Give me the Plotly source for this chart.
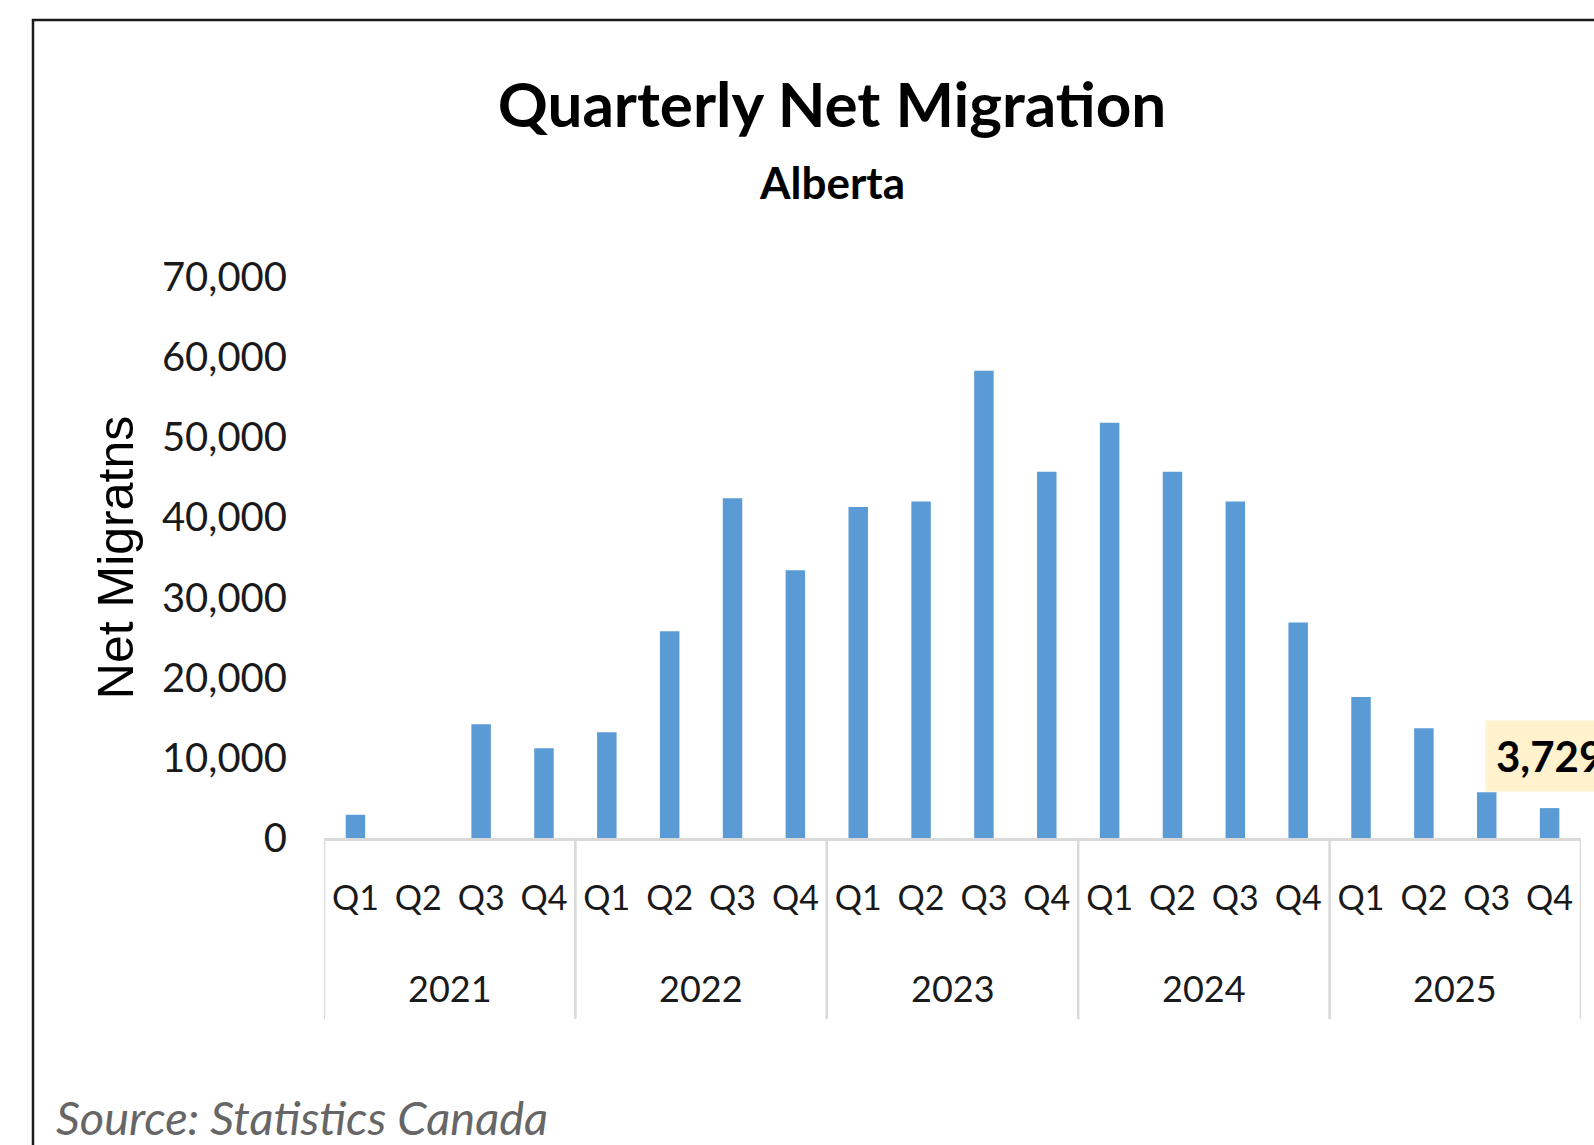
import plotly.graph_objects as go

# quarterly net migration, Alberta (Statistics Canada)
years = ["2021", "2022", "2023", "2024", "2025"]
quarters = ["Q1", "Q2", "Q3", "Q4"]
net_migrants = [2900, 0, 14200, 11200,
                13200, 25800, 42400, 33400,
                41300, 42000, 58300, 45700,
                51800, 45700, 42000, 26900,
                17600, 13700, 5700, 3729]

categories = [f"{y} {q}" for y in years for q in quarters]
quarter_labels = [q for y in years for q in quarters]

W, H = 1594, 1145
L, R, T, B = 324, 13, 277, 307
plot_w = W - L - R
plot_h = H - T - B


def px_x(p):
    return (p - L) / plot_w


def px_y(p):
    return (H - B - p) / plot_h


fig = go.Figure()
fig.add_trace(go.Bar(
    x=categories,
    y=net_migrants,
    marker=dict(color="#5B9BD5", line=dict(width=0)),
    hoverinfo="x+y",
))

n_q = len(quarters)
shapes = []
# category dividers below the axis
for i in range(len(years) + 1):
    xv = i * n_q - 0.5
    shapes.append(dict(type="line", xref="x", yref="paper",
                       x0=xv, x1=xv, y0=0, y1=px_y(1019),
                       line=dict(color="#d9d9d9", width=2.5)))
# outer chart frame
shapes.append(dict(type="rect", xref="paper", yref="paper",
                   x0=px_x(33), x1=px_x(1700), y0=px_y(1300), y1=px_y(20),
                   line=dict(color="#1a1a1a", width=2.5)))

annotations = []
for i, y in enumerate(years):
    annotations.append(dict(
        x=i * n_q + (n_q - 1) / 2, y=0, xref="x", yref="paper",
        yshift=-150, yanchor="middle", showarrow=False, text=y,
        font=dict(family="Lato", size=36, color="#1a1a1a")))

annotations.append(dict(
    x=px_x(832), y=px_y(182), xref="paper", yref="paper",
    text="<b>Alberta</b>", showarrow=False, yanchor="middle",
    font=dict(family="Lato", size=44, color="#000000")))

annotations.append(dict(
    x=px_x(54), y=px_y(1117), xref="paper", yref="paper",
    text="<i>Source: Statistics Canada</i>", showarrow=False,
    xanchor="left", yanchor="middle",
    font=dict(family="Lato", size=47, color="#666666")))

# data label on the latest quarter
annotations.append(dict(
    x=categories[-1], y=net_migrants[-1], xref="x", yref="y",
    text=f"<b>{net_migrants[-1]:,}</b>", showarrow=False,
    xanchor="left", yanchor="middle", xshift=-65, yshift=52,
    bgcolor="#FFF2CC", borderpad=10,
    font=dict(family="Lato", size=42, color="#000000")))

fig.update_layout(
    width=W, height=H,
    margin=dict(l=L, r=R, t=T, b=B),
    plot_bgcolor="white", paper_bgcolor="white",
    showlegend=False,
    bargap=0.69,
    title=dict(text="<b>Quarterly Net Migration</b>", xref="container", yref="container",
               x=832 / W, y=1 - 105 / H, xanchor="center", yanchor="middle",
               font=dict(family="Lato", size=62, color="#000000")),
    shapes=shapes,
    annotations=annotations,
)

fig.update_xaxes(
    type="category",
    range=[-0.5, len(categories) - 0.5],
    tickvals=categories, ticktext=quarter_labels,
    showline=True, linecolor="#d9d9d9", linewidth=3,
    showgrid=False, ticks="", ticklabelstandoff=28,
    tickfont=dict(family="Lato", size=34, color="#1a1a1a"),
    fixedrange=True,
)
fig.update_yaxes(
    range=[0, 70000], tickvals=list(range(0, 70001, 10000)),
    tickformat=",", showgrid=False, zeroline=False, showline=False,
    ticks="", ticklabelstandoff=36,
    tickfont=dict(family="Lato", size=40, color="#1a1a1a"),
    title=dict(text="Net Migratns", standoff=12,
               font=dict(family="Liberation Sans", size=50, color="#000000")),
    fixedrange=True,
)

fig.write_html("out.html", config={"displayModeBar": False},
               post_script="document.body.style.margin='0';")
